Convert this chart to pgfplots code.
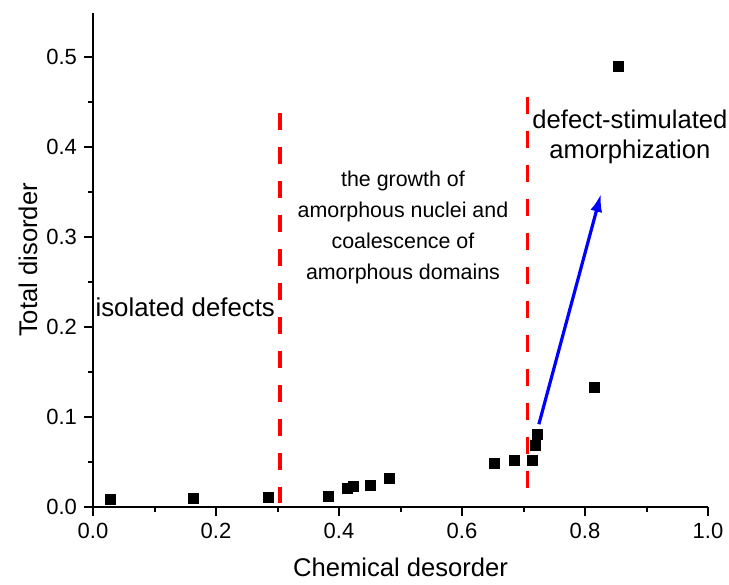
\documentclass[border=0pt]{standalone}
\usepackage{fontspec}
\setmainfont{Liberation Sans}
\usepackage{pgfplots}
\pgfplotsset{compat=1.18}
\usetikzlibrary{arrows.meta}

\begin{document}
\begin{tikzpicture}
\begin{axis}[
  scale only axis,
  width=307.5bp, height=247bp,
  xmin=0, xmax=1.0, ymin=0, ymax=0.549,
  axis lines=left,
  axis line style={line width=1bp, -},
  xtick={0,0.2,0.4,0.6,0.8,1.0},
  ytick={0,0.1,0.2,0.3,0.4,0.5},
  minor xtick={0.1,0.3,0.5,0.7,0.9},
  minor ytick={0.05,0.15,0.25,0.35,0.45},
  tick align=outside,
  major tick length=4.5bp, minor tick length=2.5bp,
  every tick/.style={line width=1bp, black},
  xticklabel style={/pgf/number format/.cd, fixed, fixed zerofill, precision=1},
  yticklabel style={/pgf/number format/.cd, fixed, fixed zerofill, precision=1},
  /pgf/number format/assume math mode=true,
  tick label style={font=\fontsize{11bp}{13bp}\selectfont},
  label style={font=\fontsize{12.8bp}{15bp}\selectfont},
  xlabel={Chemical desorder},
  ylabel={Total disorder},
  xlabel style={at={(axis description cs:0.5,-0.1417)}, anchor=base},
  ylabel style={at={(axis description cs:-0.091,0.5)}, anchor=base},
  clip=false,
]
% measured points
\addplot[only marks, mark=square*, mark size=2.5bp, black] coordinates {
  (0.029,0.008) (0.163,0.010) (0.286,0.011) (0.382,0.012)
  (0.413,0.021) (0.424,0.023) (0.451,0.024) (0.482,0.032)
  (0.652,0.049) (0.686,0.052) (0.714,0.052) (0.719,0.069)
  (0.722,0.081) (0.815,0.133) (0.855,0.490)
};
% regime boundaries (dashes start at the top)
\addplot[red, line width=1.6bp, dash pattern=on 8.5bp off 8.5bp] coordinates {(0.304,0.438) (0.304,0.004)};
\addplot[red, line width=1.6bp, dash pattern=on 8.5bp off 8.5bp] coordinates {(0.707,0.456) (0.707,0.020)};
% trend arrow
\addplot[blue, line width=1.6bp, -{Latex[length=9bp,width=6bp]}] coordinates {(0.725,0.092) (0.826,0.348)};

\node[font=\fontsize{12.9bp}{15bp}\selectfont] at (axis cs:0.150,0.222) {isolated defects};
\node[font=\fontsize{10.7bp}{15.5bp}\selectfont, align=center] at (axis cs:0.504,0.311)
  {the growth of\\amorphous nuclei and\\coalescence of\\amorphous domains};
\node[font=\fontsize{12.8bp}{15bp}\selectfont, align=center] at (axis cs:0.873,0.411)
  {defect-stimulated\\amorphization};
\end{axis}
\pgfresetboundingbox
\path (-46.5bp,-39bp) rectangle (318bp,253.5bp);
\end{tikzpicture}
\end{document}
